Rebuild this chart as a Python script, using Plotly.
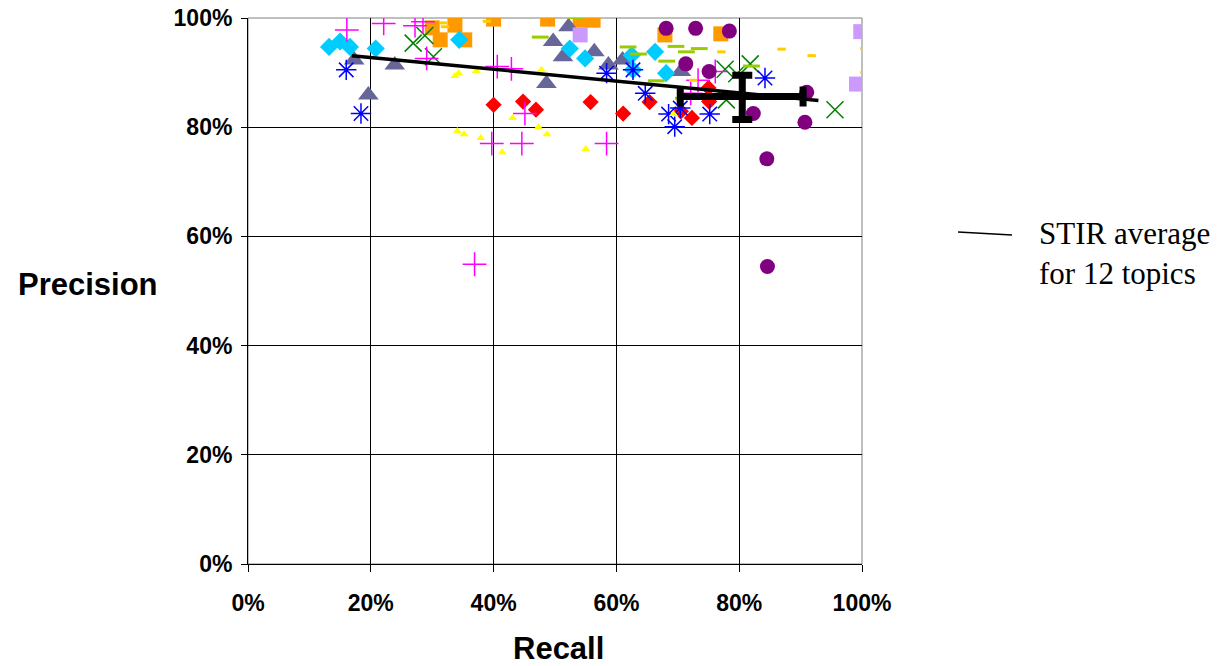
import plotly.graph_objects as go

# ---- data: (recall %, precision %) per topic ----
purple_x = [68.1, 72.9, 78.4, 71.3, 75.1, 91.0, 82.3, 90.7, 84.5, 84.6]
purple_y = [98.1, 98.1, 97.6, 91.6, 90.2, 86.4, 82.5, 80.9, 74.2, 54.5]

lavender_x = [54.1, 99.8, 99.1]
lavender_y = [96.9, 97.5, 87.9]

yellow_x = [33.7, 34.3, 37.2, 47.8, 43.1, 47.3, 48.7, 34.1, 35.2, 37.9, 41.4, 55.0, 69.3]
yellow_y = [89.4, 89.9, 90.3, 90.5, 81.7, 80.0, 78.7, 79.3, 78.7, 78.0, 75.4, 76.0, 82.4]

magenta_x = [16.1, 22.1, 27.2, 28.5, 29.1, 40.6, 42.9, 45.1, 39.7, 44.6, 58.4, 36.9, 73.3, 76.1, 72.1]
magenta_y = [97.8, 99.0, 98.6, 99.3, 92.6, 91.1, 90.7, 82.5, 77.0, 77.0, 77.0, 54.9, 88.6, 90.2, 86.2]

blue_x = [16.0, 18.4, 58.4, 62.7, 64.7, 84.2, 70.4, 68.5, 69.5, 75.2]
blue_y = [90.5, 82.5, 89.9, 90.5, 86.2, 89.0, 83.5, 82.4, 80.1, 82.4]

green_x = [26.9, 28.8, 30.2, 77.7, 79.6, 81.8, 77.9, 95.6]
green_y = [95.4, 96.8, 92.9, 90.6, 89.8, 91.6, 85.0, 83.2]

red_x = [40.0, 44.8, 46.9, 55.8, 61.1, 65.4, 75.0, 75.1, 70.5, 72.3]
red_y = [84.1, 84.7, 83.2, 84.6, 82.5, 84.6, 87.2, 84.7, 82.9, 81.7]

cyan_x = [13.2, 15.0, 16.6, 20.8, 34.4, 52.4, 54.9, 62.5, 62.7, 66.3, 68.1]
cyan_y = [94.7, 95.7, 94.7, 94.4, 96.0, 94.4, 92.6, 93.2, 90.5, 93.8, 89.9]

slate_x = [17.3, 23.9, 19.6, 52.2, 49.7, 51.3, 56.4, 48.6, 58.7, 61.0, 70.5]
slate_y = [92.3, 91.4, 85.9, 98.4, 95.7, 92.9, 93.8, 88.0, 91.4, 92.3, 90.2]

orange_x = [30.0, 31.3, 33.7, 35.3, 40.0, 48.8, 54.1, 56.2, 67.9, 77.0]
orange_y = [98.2, 96.0, 98.7, 96.0, 99.8, 99.8, 99.6, 99.6, 96.9, 97.1]

lime_x = [47.6, 53.4, 61.9, 63.6, 66.5, 69.7, 73.5, 68.2, 71.4, 70.9, 82.0]
lime_y = [96.5, 100.1, 94.7, 93.4, 88.5, 94.8, 94.4, 92.1, 93.8, 85.3, 91.2]

gold_x = [31.8, 32.1, 38.9, 77.1, 86.9, 91.8, 100.4, 100.4, 72.5]
gold_y = [99.1, 98.4, 99.4, 93.8, 94.3, 93.1, 94.4, 90.0, 88.6]

stir_x = [16.9, 92.9]
stir_y = [93.1, 84.9]

avg_x = [80.5]
avg_y = [85.6]
avg_x_minus = [10.1]
avg_x_plus = [9.9]
avg_y_minus = [4.2]
avg_y_plus = [3.9]

x_ticks = [0, 20, 40, 60, 80, 100]
x_tick_labels = ["0%", "20%", "40%", "60%", "80%", "100%"]
y_ticks = [0, 20, 40, 60, 80, 100]
y_tick_labels = ["0%", "20%", "40%", "60%", "80%", "100%"]

fig = go.Figure()

def add(xs, ys, symbol, color, size, lw=0, lc=None):
    m = dict(symbol=symbol, color=color, size=size)
    if lw:
        m["line"] = dict(width=lw, color=lc or color)
    else:
        m["line"] = dict(width=0)
    fig.add_trace(go.Scatter(x=xs, y=ys, mode="markers", marker=m,
                             showlegend=False, hoverinfo="x+y"))

add(orange_x, orange_y, "square", "#FF9900", 15)
add(slate_x, slate_y, "triangle-up", "#666699", 18)
add(cyan_x, cyan_y, "diamond", "#00CCFF", 14)
add(red_x, red_y, "diamond", "#FF0000", 12.5)
add(green_x, green_y, "x-thin-open", "#008000", 17, 1.5)
add(blue_x, blue_y, "asterisk-open", "#0000FF", 17, 1.5)
add(magenta_x, magenta_y, "cross-thin-open", "#FF00FF", 17, 1.5)
add(yellow_x, yellow_y, "triangle-up", "#FFFF00", 8)
add(lavender_x, lavender_y, "square", "#CC99FF", 15)
add(purple_x, purple_y, "circle", "#800080", 15)
add(lime_x, lime_y, "line-ew-open", "#99CC00", 12, 3)
add(gold_x, gold_y, "line-ew-open", "#FFCC00", 6, 3)

fig.add_trace(go.Scatter(
    x=avg_x, y=avg_y, mode="markers",
    marker=dict(size=1, color="black"),
    error_x=dict(type="data", symmetric=False, array=avg_x_plus, arrayminus=avg_x_minus,
                 color="black", thickness=7, width=10),
    error_y=dict(type="data", symmetric=False, array=avg_y_plus, arrayminus=avg_y_minus,
                 color="black", thickness=7, width=10),
    showlegend=False, hoverinfo="skip"))

fig.add_trace(go.Scatter(x=stir_x, y=stir_y, mode="lines",
                         line=dict(color="black", width=3.5),
                         name="STIR average<br>for 12 topics", showlegend=False))

tickfont = dict(family="Liberation Sans, Arial, sans-serif", size=23, color="black", weight="bold")

fig.update_layout(
    width=1220, height=666,
    margin=dict(l=248, r=358, t=18, b=102, autoexpand=False),
    paper_bgcolor="white", plot_bgcolor="white",
    xaxis=dict(range=[0, 100], tickvals=x_ticks, ticktext=x_tick_labels, showgrid=True,
               gridcolor="black", gridwidth=1, showline=True, linecolor="black", linewidth=1,
               ticks="outside", ticklen=7, tickcolor="black", tickfont=tickfont,
               zeroline=False, ticklabelstandoff=11, automargin=False,
               ticklabeloverflow="allow"),
    yaxis=dict(range=[0, 100], tickvals=y_ticks, ticktext=y_tick_labels, showgrid=True,
               gridcolor="black", gridwidth=1, showline=True, linecolor="black", linewidth=1,
               ticks="outside", ticklen=6, tickcolor="black", tickfont=tickfont,
               zeroline=False, ticklabelstandoff=4, automargin=False,
               ticklabeloverflow="allow"),
    shapes=[
        dict(type="rect", xref="x domain", yref="y domain", x0=0, x1=1, y0=0, y1=1,
             line=dict(color="#808080", width=1), layer="below"),
        dict(type="line", xref="paper", yref="paper", x0=1.1564, x1=1.2443, y0=0.608, y1=0.6026,
             line=dict(color="black", width=1.5)),
    ],
    annotations=[
        dict(text="Precision", xref="paper", yref="paper", x=-0.2606, y=0.5128,
             showarrow=False, xanchor="center", yanchor="middle",
             font=dict(family="Liberation Sans, Arial, sans-serif", size=31, color="black", weight="bold")),
        dict(text="Recall", xref="paper", yref="paper", x=0.5065, y=-0.155,
             showarrow=False, xanchor="center", yanchor="middle",
             font=dict(family="Liberation Sans, Arial, sans-serif", size=31, color="black", weight="bold")),
        dict(text="STIR average<br>for 12 topics", xref="paper", yref="paper", x=1.285, y=0.5687,
             showarrow=False, xanchor="left", yanchor="middle", align="left",
             font=dict(family="Liberation Serif, Times New Roman, serif", size=31, color="black")),
    ],
)

fig.write_html("out.html", config={"displayModeBar": False},
               post_script="document.body.style.margin='0px';document.body.style.overflow='hidden';")
